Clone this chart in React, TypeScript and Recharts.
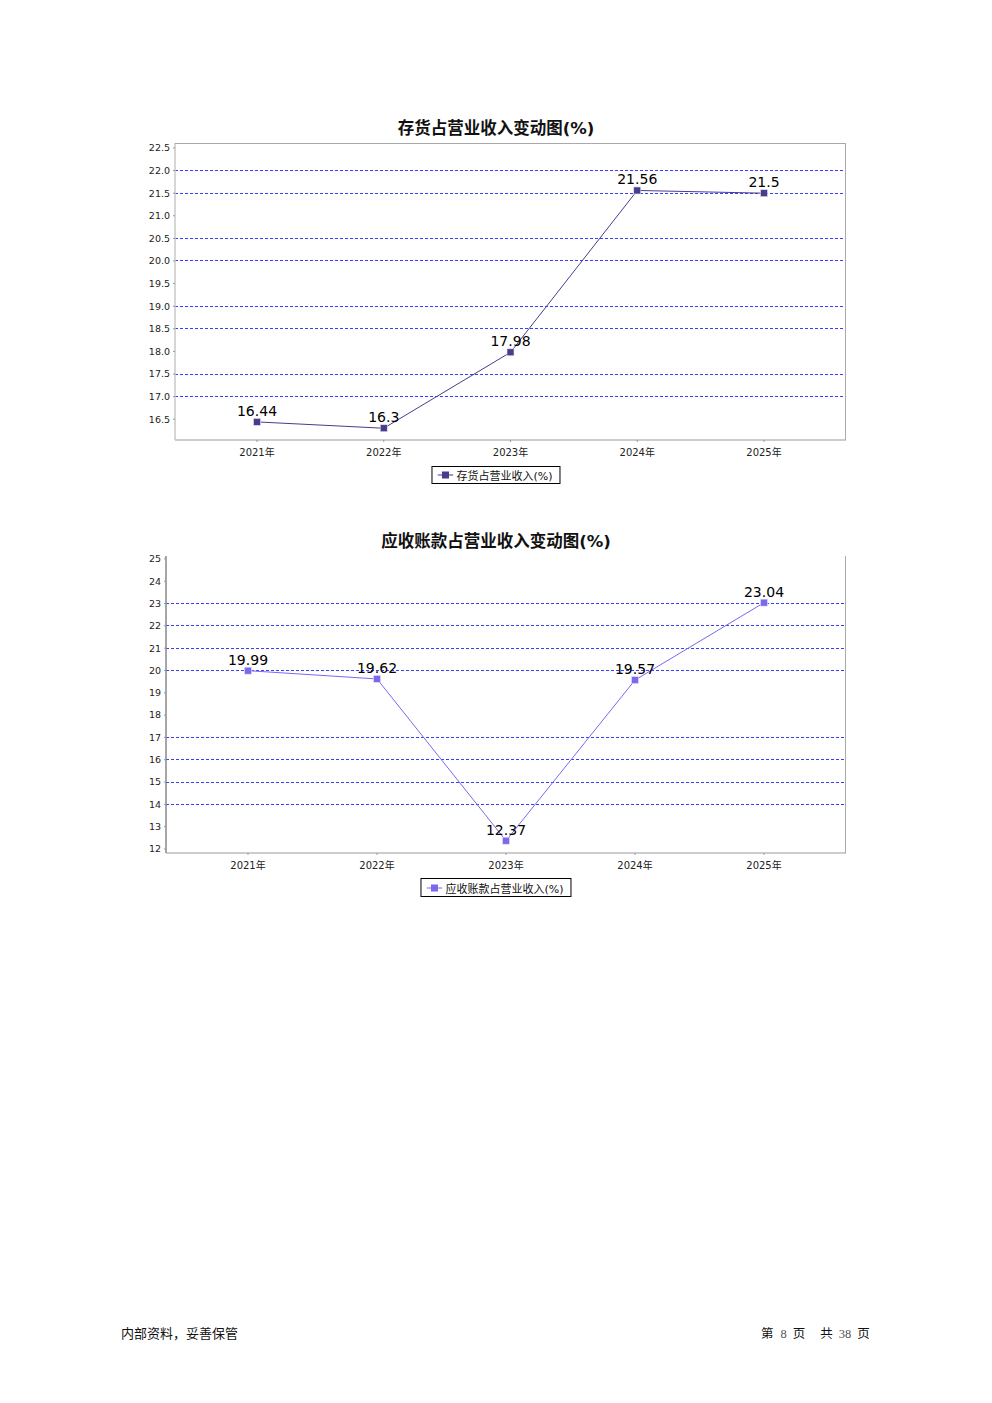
import React from 'react';
import { LineChart, Line, XAxis, YAxis, ReferenceLine, LabelList } from 'recharts';

const years = ['2021年', '2022年', '2023年', '2024年', '2025年'];
const inventoryRatio = [16.44, 16.3, 17.98, 21.56, 21.5];
const receivableRatio = [19.99, 19.62, 12.37, 19.57, 23.04];

const inventoryTicks = [16.5, 17.0, 17.5, 18.0, 18.5, 19.0, 19.5, 20.0, 20.5, 21.0, 21.5, 22.0, 22.5];
const inventoryGrid = [17.0, 17.5, 18.5, 19.0, 20.0, 20.5, 21.5, 22.0];
const inventoryDomain: [number, number] = [16.04, 22.61];

const receivableTicks = [12, 13, 14, 15, 16, 17, 18, 19, 20, 21, 22, 23, 24, 25];
const receivableGrid = [14, 15, 16, 17, 20, 21, 22, 23];
const receivableDomain: [number, number] = [11.82, 25.13];

const FONT = '"DejaVu Sans", "Noto Sans CJK SC", sans-serif';
const CJK = '"Noto Sans CJK SC", "DejaVu Sans", sans-serif';
const SERIF = '"Liberation Serif", serif';

const squareDot = (color: string) => (props: any) => {
  const { cx, cy, index } = props;
  if (cx == null || cy == null) return <g key={index} />;
  return (
    <rect key={index} x={cx - 3.5} y={cy - 3.5} width={7} height={7}
      fill={color} stroke="#e6e6f2" strokeWidth={0.6} />
  );
};

type ChartProps = {
  title: string;
  name: string;
  values: number[];
  ticks: number[];
  grid: number[];
  domain: [number, number];
  color: string;
  top: number;          // top of the chart box
  plotLeft: number;
  plotTop: number;      // relative to chart box
  titleY: number;
  legendY: number;
  legendH: number;
  decimals: number;
  topBorder: boolean;
  axisColor: string;
};

function TrendChart(p: ChartProps) {
  const data = years.map((y, i) => ({ year: y, value: p.values[i] }));
  const H = 400;
  const plotRight = 846;
  const plotBottom = 340; // relative to chart box
  const yAxisW = 40;
  const xAxisH = 20;
  return (
    <>
      <div style={{
        position: 'absolute', left: 0, width: 992, top: p.titleY - 10, height: 20,
        textAlign: 'center', fontFamily: FONT, fontWeight: 'bold', fontSize: 16.5,
        lineHeight: '20px', color: '#111',
      }}>{p.title}</div>

      <div style={{ position: 'absolute', left: 0, top: p.top }}>
        <LineChart width={992} height={H} data={data}
          margin={{ top: p.plotTop, right: 992 - plotRight, left: p.plotLeft - yAxisW, bottom: H - plotBottom - xAxisH }}>
          {p.grid.map(v => (
            <ReferenceLine key={v} y={v} stroke="#3b3bff" strokeWidth={1} strokeDasharray="3 2"
              shapeRendering="crispEdges" ifOverflow="visible" />
          ))}
          <XAxis dataKey="year" height={xAxisH} padding={{ left: 82, right: 82 }}
            axisLine={{ stroke: '#999' }} tickLine={{ stroke: '#999' }} tickSize={2} tickMargin={7}
            tick={{ fontSize: 10, fill: '#222', fontFamily: FONT }} interval={0} />
          <YAxis type="number" domain={p.domain} ticks={p.ticks} width={yAxisW} interval={0}
            allowDataOverflow axisLine={{ stroke: p.axisColor, strokeWidth: 1.5 }} tickLine={{ stroke: '#999' }}
            tickSize={2} tickMargin={3}
            tickFormatter={(v: number) => v.toFixed(p.decimals)}
            tick={{ fontSize: 9.5, fill: '#222', fontFamily: FONT }} />
          <Line type="linear" dataKey="value" name={p.name} stroke={p.color} strokeWidth={1}
            dot={squareDot(p.color)} activeDot={false} isAnimationActive={false}>
            <LabelList dataKey="value" position="top" offset={6}
              style={{ fontSize: 14, fill: '#000', fontFamily: FONT }} />
          </Line>
        </LineChart>
        {/* plot frame */}
        <div style={{
          position: 'absolute', left: p.plotLeft, top: p.plotTop,
          width: plotRight - p.plotLeft, height: plotBottom - p.plotTop,
          borderTop: p.topBorder ? '1px solid #aaa' : 'none', borderRight: '1px solid #aaa',
          boxSizing: 'border-box', pointerEvents: 'none',
        }} />
      </div>

      <div style={{
        position: 'absolute', left: 496, top: p.legendY, height: p.legendH,
        transform: 'translateX(-50%)', border: '1px solid #000', boxSizing: 'border-box',
        display: 'flex', alignItems: 'center', padding: '0 7px 0 5px', background: '#fff',
        fontFamily: FONT, fontSize: 11, color: '#111', whiteSpace: 'nowrap',
      }}>
        <svg width={16} height={8} style={{ marginRight: 3 }}>
          <line x1={0} y1={4} x2={16} y2={4} stroke={p.color} strokeWidth={1} />
          <rect x={4.5} y={0.5} width={7} height={7} fill={p.color} />
        </svg>
        <span>{p.name}</span>
      </div>
    </>
  );
}

export default function App() {
  return (
    <div style={{ position: 'absolute', left: 0, top: 0, width: 992, height: 1403, background: '#fff', overflow: 'hidden' }}>
      <TrendChart title="存货占营业收入变动图(%)" name="存货占营业收入(%)"
        values={inventoryRatio} ticks={inventoryTicks} grid={inventoryGrid} domain={inventoryDomain}
        color="#483d8b" top={100} plotLeft={175} plotTop={43} titleY={129}
        legendY={466} legendH={18} decimals={1} topBorder axisColor="#c8c8c8" />
      <TrendChart title="应收账款占营业收入变动图(%)" name="应收账款占营业收入(%)"
        values={receivableRatio} ticks={receivableTicks} grid={receivableGrid} domain={receivableDomain}
        color="#7b68ee" top={513} plotLeft={166} plotTop={43} titleY={542}
        legendY={878} legendH={19} decimals={0} topBorder={false} axisColor="#888" />

      <div style={{ position: 'absolute', left: 121, top: 1324, fontFamily: CJK, fontSize: 13, lineHeight: '18px', color: '#111', whiteSpace: 'nowrap' }}>
        内部资料，妥善保管
      </div>
      <div style={{ position: 'absolute', left: 761, top: 1324, fontFamily: CJK, fontSize: 12.5, lineHeight: '18px', color: '#111', whiteSpace: 'nowrap' }}>
        <span>第</span>
        <span style={{ fontFamily: SERIF, color: '#555', marginLeft: 7, marginRight: 6 }}>8</span>
        <span>页</span>
        <span style={{ marginLeft: 15 }}>共</span>
        <span style={{ fontFamily: SERIF, color: '#555', marginLeft: 6, marginRight: 6 }}>38</span>
        <span>页</span>
      </div>
    </div>
  );
}
